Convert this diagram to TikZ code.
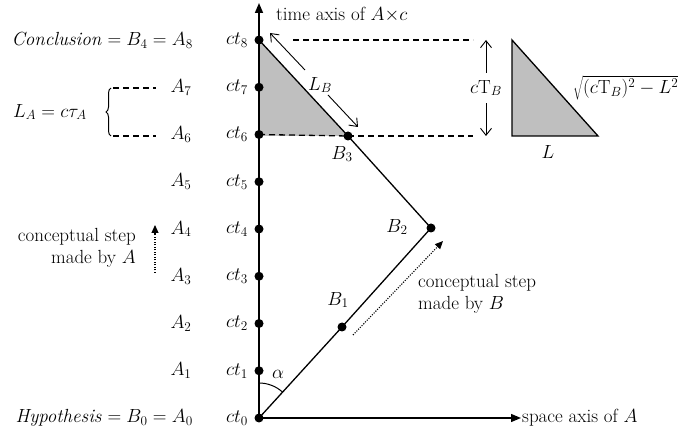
\RequirePackage{fix-cm}
\documentclass[tikz,border=0pt]{standalone}
\usepackage{fontspec}
\usetikzlibrary{arrows.meta,decorations.pathreplacing}
\begin{document}
\begin{tikzpicture}[x=1pt,y=-1pt,font=\fontsize{19}{22.5}\selectfont,
  dot/.style={circle,fill=black,inner sep=0pt,minimum size=9pt},
  lbl/.style={inner sep=1pt},
  ln/.style={line width=1.3pt},
  dsh/.style={line width=1.3pt,dash pattern=on 6pt off 4pt},
  dtd/.style={line width=1.1pt,dash pattern=on 1.1pt off 1.4pt,-{Triangle[length=8pt,width=7pt]}},
  barbone/.style={line width=0.9pt,-{Straight Barb[length=7pt,width=11pt]}}]
\useasboundingbox (0,0) rectangle (686,430);
% gray triangles
\fill[gray!50] (259,40) -- (259,136) -- (348,136) -- cycle;
\filldraw[fill=gray!50,ln] (512,40) -- (512,136) -- (598,136) -- cycle;
% time axis points
\foreach \i in {0,...,8} {
  \node[dot] (c\i) at (259,{418-47.25*\i}) {};
  \node[lbl,anchor=east] (ct\i) at (249,{418-47.25*\i}) {$ct_{\i}$};
}
\foreach \i in {1,...,7} {
  \node[lbl] (a\i) at (181,{418-47.25*\i}) {$A_{\i}$};
}
\node[lbl,anchor=east] (concl) at (194,40) {\textit{Conclusion} $= B_4 = A_8$};
\node[lbl,anchor=east] (hypo) at (194,418) {\textit{Hypothesis} $= B_0 = A_0$};
% axes
\coordinate (ttop) at (259,3);
\coordinate (xend) at (521,418);
\draw[line width=1.5pt,-{Triangle[length=10pt,width=8pt]}] (c0.center) -- (ttop);
\draw[ln,-{Triangle[length=10pt,width=8pt]}] (c0.center) -- (xend);
\node[lbl,anchor=west] (tlab) at (275,15) {time axis of $A{\times}c$};
\node[lbl,anchor=west] (xlab) at (521,418) {space axis of $A$};
% B path
\node[dot] (b1) at (342,327) {};
\node[dot] (b2) at (431,228) {};
\node[dot] (b3) at (348,136) {};
\draw[ln] (c0.center) -- (b1.center) -- (b2.center) -- (b3.center) -- (c8.center);
\node[lbl] (b1l) at (338,300) {$B_1$};
\node[lbl] (b2l) at (397,227) {$B_2$};
\node[lbl] (b3l) at (342,154) {$B_3$};
% alpha
\draw[line width=1pt] (259,383) arc[start angle=-90,end angle=-47.6,radius=35];
\node[lbl] (alpha) at (278,374) {$\alpha$};
% dashed lines
\coordinate (d8a) at (293,40);
\coordinate (d8b) at (473,40);
\coordinate (d6b) at (473,136);
\draw[dsh] (d8a) -- (d8b);
\draw[dsh] (c6.center) -- (b3.center);
\draw[dsh] (b3.center) -- (d6b);
% cT_B arrow
\coordinate (ca) at (486,40);
\coordinate (cb) at (486,136);
\node[lbl,inner sep=7pt] (ctb) at (486,88) {$c\mathrm{T}_B$};
\draw[barbone] (ctb.north) -- (ca);
\draw[barbone] (ctb.south) -- (cb);
% L_B arrow
\coordinate (la) at (270,33);
\coordinate (la2) at (305,70);
\coordinate (lb2) at (328,95);
\coordinate (lb) at (358,127);
\draw[barbone] (la2) -- (la);
\draw[barbone] (lb2) -- (lb);
\node[lbl] (lbl) at (320,85) {$L_B$};
% small triangle labels
\node[lbl,anchor=west] (sq) at (572,88) {$\sqrt{(c\mathrm{T}_B)^2 - L^2}$};
\node[lbl] (ll) at (548,152) {$L$};
% L_A brace
\draw[line width=1pt,decorate,decoration={brace,amplitude=5pt}] (111,136) -- (111,88);
\coordinate (e7a) at (113,88);
\coordinate (e7b) at (156,88);
\coordinate (e6a) at (113,136);
\coordinate (e6b) at (156,136);
\draw[dsh] (e7a) -- (e7b);
\draw[dsh] (e6a) -- (e6b);
\node[lbl] (la) at (50,112) {$L_A = c\tau_A$};
% conceptual steps
\node[lbl,align=right,anchor=east] (csa) at (137,248) {conceptual step\\made by $A$};
\coordinate (sa1) at (155,273);
\coordinate (sa2) at (155,225);
\draw[dtd] (sa1) -- (sa2);
\node[lbl,align=left,anchor=west] (csb) at (417,294) {conceptual step\\made by $B$};
\coordinate (sb1) at (353,335);
\coordinate (sb2) at (443,241);
\draw[dtd] (sb1) -- (sb2);
\end{tikzpicture}
\end{document}
